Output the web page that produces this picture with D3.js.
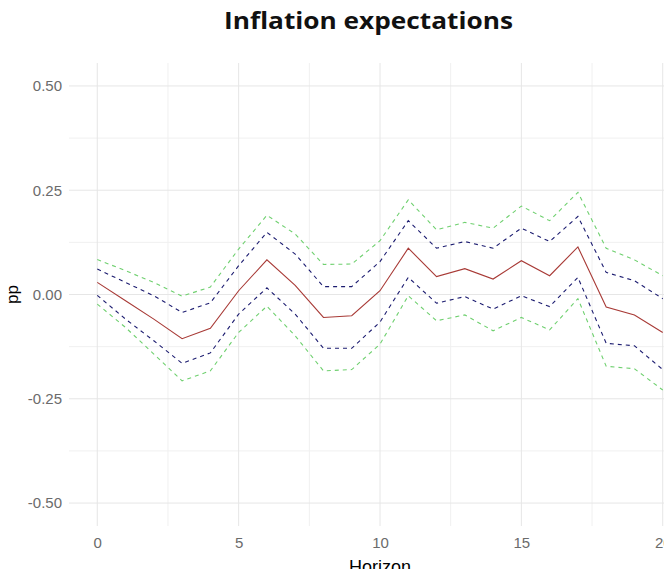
<!DOCTYPE html>
<html>
<head>
<meta charset="utf-8">
<script src="https://cdn.jsdelivr.net/npm/d3@7"></script>
<style>
  html, body { margin: 0; padding: 0; background: #fff; }
  svg { display: block; }
</style>
</head>
<body>
<div id="chart"></div>
<script>
const horizon = [0,1,2,3,4,5,6,7,8,9,10,11,12,13,14,15,16,17,18,19,20];
const estimate = [0.029,-0.015,-0.059,-0.106,-0.081,0.009,0.083,0.022,-0.055,-0.051,0.009,0.111,0.043,0.062,0.037,0.081,0.045,0.114,-0.030,-0.049,-0.091];
const upper68 = [0.061,0.029,-0.003,-0.043,-0.020,0.069,0.149,0.097,0.019,0.019,0.079,0.177,0.111,0.127,0.111,0.159,0.127,0.187,0.053,0.033,-0.010];
const lower68 = [-0.002,-0.059,-0.111,-0.165,-0.140,-0.047,0.016,-0.047,-0.129,-0.129,-0.066,0.041,-0.021,-0.005,-0.035,-0.003,-0.029,0.041,-0.117,-0.123,-0.180];
const upper90 = [0.084,0.057,0.029,-0.004,0.018,0.109,0.190,0.145,0.072,0.073,0.129,0.227,0.155,0.173,0.159,0.212,0.177,0.245,0.111,0.083,0.045];
const lower90 = [-0.023,-0.079,-0.143,-0.207,-0.183,-0.091,-0.028,-0.099,-0.183,-0.180,-0.119,-0.003,-0.063,-0.049,-0.087,-0.055,-0.085,-0.010,-0.172,-0.178,-0.229];
const xTicks = [0,5,10,15,20];
const xMinor = [2.5,7.5,12.5,17.5];
const yTicks = [-0.5,-0.25,0,0.25,0.5];
const yMinor = [-0.375,-0.125,0.125,0.375];
const titleText = "Inflation expectations";
const xTitle = "Horizon";
const yTitle = "pp";

const W = 664, H = 569;
const svg = d3.select("#chart").append("svg").attr("width", W).attr("height", H);

const x = d3.scaleLinear().domain([-1, 21]).range([69, 691]);
const y = d3.scaleLinear().domain([-0.555, 0.555]).range([526, 63]);

const grid = svg.append("g");
grid.selectAll(".ymin").data(yMinor).join("line")
  .attr("x1", x.range()[0]).attr("x2", x.range()[1])
  .attr("y1", d => y(d)).attr("y2", d => y(d))
  .attr("stroke", "#f0f0f0").attr("stroke-width", 1);
grid.selectAll(".xmin").data(xMinor).join("line")
  .attr("y1", y.range()[0]).attr("y2", y.range()[1])
  .attr("x1", d => x(d)).attr("x2", d => x(d))
  .attr("stroke", "#f0f0f0").attr("stroke-width", 1);
grid.selectAll(".ymaj").data(yTicks).join("line")
  .attr("x1", x.range()[0]).attr("x2", x.range()[1])
  .attr("y1", d => y(d)).attr("y2", d => y(d))
  .attr("stroke", "#e6e6e6").attr("stroke-width", 1);
grid.selectAll(".xmaj").data(xTicks).join("line")
  .attr("y1", y.range()[0]).attr("y2", y.range()[1])
  .attr("x1", d => x(d)).attr("x2", d => x(d))
  .attr("stroke", "#e6e6e6").attr("stroke-width", 1);

const yAxis = d3.axisLeft(y).tickValues(yTicks).tickFormat(d => d3.format(".2f")(d).replace("−","-")).tickSize(0).tickPadding(7);
const gy = svg.append("g").attr("transform", `translate(${x.range()[0]},0)`).call(yAxis);
gy.select(".domain").remove();
gy.selectAll("text").attr("font-family", "Liberation Sans, Arial, sans-serif")
  .attr("font-size", 15).attr("fill", "#6b6b6b");

const xAxis = d3.axisBottom(x).tickValues(xTicks).tickFormat(d3.format("d")).tickSize(0).tickPadding(0);
const gx = svg.append("g").attr("transform", `translate(0,${y.range()[0]})`).call(xAxis);
gx.select(".domain").remove();
gx.selectAll("text").attr("font-family", "Liberation Sans, Arial, sans-serif")
  .attr("font-size", 15).attr("fill", "#6b6b6b").attr("dy", null).attr("y", 22);

const mk = arr => d3.line().x((d, i) => x(horizon[i])).y(d => y(d))(arr);
const series = [
  {v: upper90, c: "#6fd06f", dash: "4,4"},
  {v: lower90, c: "#6fd06f", dash: "4,4"},
  {v: upper68, c: "#1c1c70", dash: "4,4"},
  {v: lower68, c: "#1c1c70", dash: "4,4"},
  {v: estimate, c: "#a83a36", dash: null}
];
svg.append("g").selectAll("path").data(series).join("path")
  .attr("d", d => mk(d.v))
  .attr("fill", "none")
  .attr("stroke", d => d.c)
  .attr("stroke-width", 1.1)
  .attr("stroke-dasharray", d => d.dash);

svg.append("text").attr("x", 368.5).attr("y", 29).attr("text-anchor", "middle")
  .attr("font-family", "Open Sans, sans-serif").attr("font-weight", 700).attr("font-size", 23)
  .attr("textLength", 289).attr("lengthAdjust", "spacingAndGlyphs")
  .attr("fill", "#111").text(titleText);

svg.append("text").attr("x", 380).attr("y", 573).attr("text-anchor", "middle")
  .attr("font-family", "Liberation Sans, Arial, sans-serif").attr("font-size", 18)
  .attr("fill", "#000").text(xTitle);

svg.append("text").attr("transform", "translate(18,294.5) rotate(-90)").attr("text-anchor", "middle")
  .attr("font-family", "Liberation Sans, Arial, sans-serif").attr("font-size", 17)
  .attr("fill", "#000").text(yTitle);
</script>
</body>
</html>
